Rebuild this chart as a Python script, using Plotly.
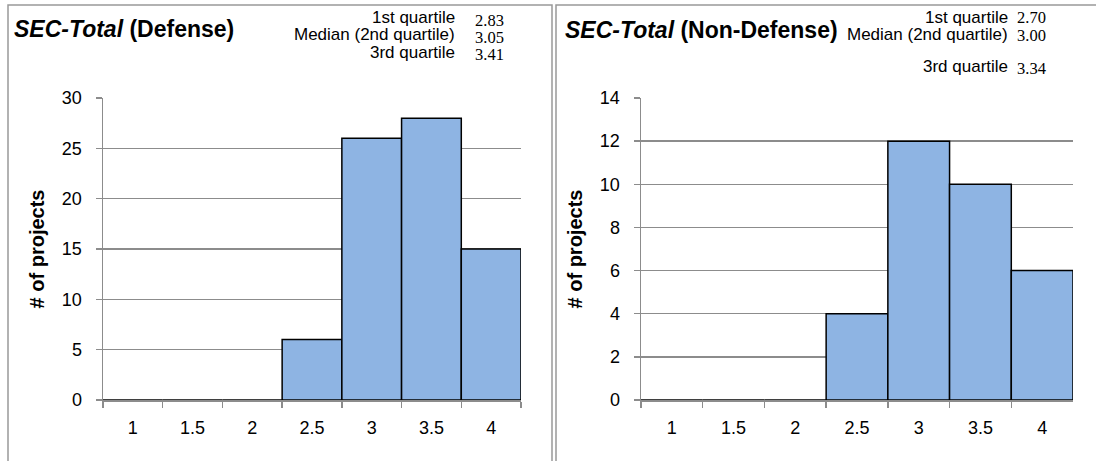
import plotly.graph_objects as go

categories = ["1", "1.5", "2", "2.5", "3", "3.5", "4"]
defense_counts = [0, 0, 0, 6, 26, 28, 15]
nondefense_counts = [0, 0, 0, 4, 12, 10, 6]
quartile_labels = ["1st quartile", "Median (2nd quartile)", "3rd quartile"]
defense_quartiles = ["2.83", "3.05", "3.41"]
nondefense_quartiles = ["2.70", "3.00", "3.34"]

W, H = 1096, 461
def px(x):
    return x / W
def py(y):
    return 1 - y / H

SANS = "Liberation Sans"
SERIF = "Liberation Serif"
BAR = "#8EB4E3"
GRID = "#8c8c8c"

fig = go.Figure()
fig.add_trace(go.Bar(x=categories, y=defense_counts, marker=dict(color=BAR, line=dict(color="black", width=1.5)),
                     xaxis="x", yaxis="y", showlegend=False, hoverinfo="skip"))
fig.add_trace(go.Bar(x=categories, y=nondefense_counts, marker=dict(color=BAR, line=dict(color="black", width=1.5)),
                     xaxis="x2", yaxis="y2", showlegend=False, hoverinfo="skip"))

ydom = [py(400), py(98)]
common_x = dict(type="category", categoryorder="array", categoryarray=categories, showgrid=False,
                showline=True, linecolor=GRID, linewidth=1.5, ticks="outside", tickson="boundaries",
                ticklen=6, tickcolor=GRID, tickwidth=1.5, tickfont=dict(family=SANS, size=18, color="black"),
                ticklabelstandoff=11, fixedrange=True, automargin=False)
common_y = dict(showgrid=True, gridcolor=GRID, gridwidth=1.5, showline=True, linecolor=GRID, linewidth=1.5,
                ticks="outside", ticklen=6, tickcolor=GRID, tickwidth=1.5, zeroline=False,
                tickfont=dict(family=SANS, size=18, color="black"), ticklabelstandoff=10,
                fixedrange=True, automargin=False,
                title=dict(text="<b># of projects</b>", font=dict(family=SANS, size=20, color="black"), standoff=12))

fig.update_layout(
    template="none",
    width=W, height=H, margin=dict(l=0, r=0, t=0, b=0, pad=0), autosize=False,
    plot_bgcolor="white", paper_bgcolor="white", bargap=0,
    xaxis=dict(domain=[px(103), px(521)], anchor="y", **common_x),
    yaxis=dict(domain=ydom, anchor="x", range=[0, 30], dtick=5, **common_y),
    xaxis2=dict(domain=[px(641), px(1073)], anchor="y2", **common_x),
    yaxis2=dict(domain=ydom, anchor="x2", range=[0, 14], dtick=2, **common_y),
)

# panel borders
fig.add_shape(type="rect", xref="paper", yref="paper", x0=px(8), x1=px(552), y0=py(475), y1=py(5),
              line=dict(color="#999999", width=1.5))
fig.add_shape(type="rect", xref="paper", yref="paper", x0=px(556), x1=px(1110), y0=py(475), y1=py(5),
              line=dict(color="#999999", width=1.5))

ann = []
ann.append(dict(text="<b><i>SEC-Total</i> (Defense)</b>", x=px(12), y=py(29), xanchor="left", yanchor="middle",
                font=dict(family=SANS, size=23, color="black")))
ann.append(dict(text="<b><i>SEC-Total</i> (Non-Defense)</b>", x=px(563), y=py(30), xanchor="left", yanchor="middle",
                font=dict(family=SANS, size=23, color="black")))
left_rows = [18, 35, 52]
right_rows = [17, 35, 67]
for lab, val, yy in zip(quartile_labels, defense_quartiles, left_rows):
    ann.append(dict(text=lab, x=px(457), y=py(yy), xanchor="right", yanchor="middle",
                    font=dict(family=SANS, size=17, color="black")))
    ann.append(dict(text=val, x=px(473), y=py(yy + 2), xanchor="left", yanchor="middle",
                    font=dict(family=SERIF, size=16.5, color="black")))
for lab, val, yy in zip(quartile_labels, nondefense_quartiles, right_rows):
    ann.append(dict(text=lab, x=px(1010), y=py(yy), xanchor="right", yanchor="middle",
                    font=dict(family=SANS, size=17, color="black")))
    ann.append(dict(text=val, x=px(1015), y=py(yy + 1), xanchor="left", yanchor="middle",
                    font=dict(family=SERIF, size=16.5, color="black")))
for a in ann:
    a.update(xref="paper", yref="paper", showarrow=False)
fig.update_layout(annotations=ann)

fig.write_html("out.html", config={"displayModeBar": False, "staticPlot": True},
               post_script="document.body.style.margin='0';")
